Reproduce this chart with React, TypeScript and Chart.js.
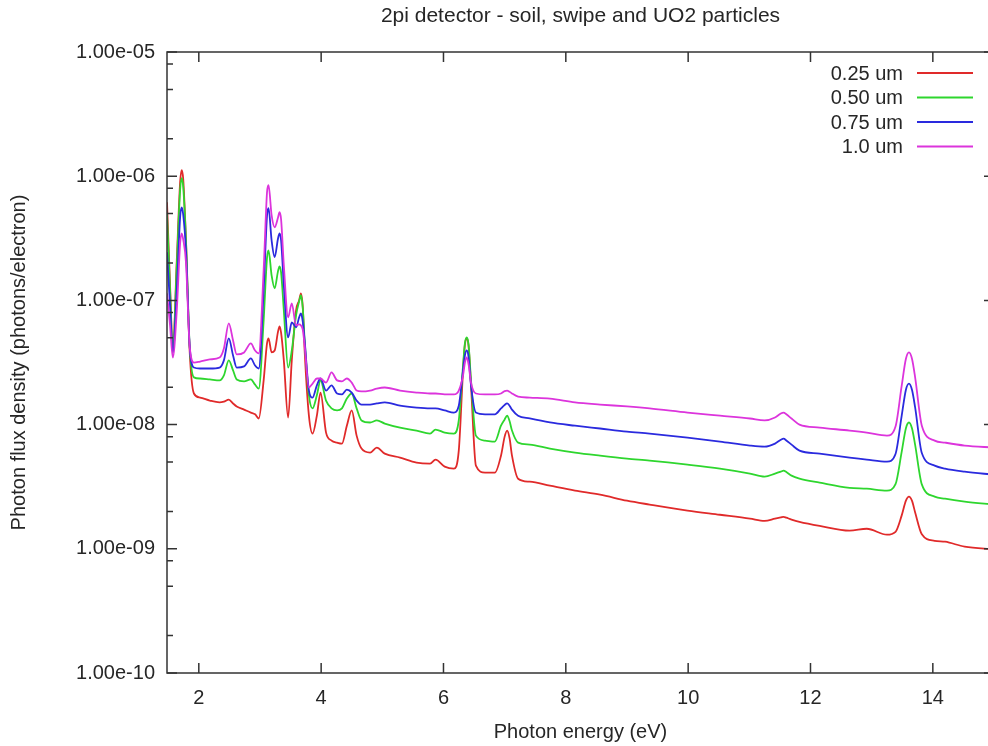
import { useEffect, useRef } from 'react';
import { Chart, registerables } from 'chart.js';

Chart.register(...registerables);

const chartTitle = '2pi detector - soil, swipe and UO2 particles';
const xTitle = 'Photon energy (eV)';
const yTitle = 'Photon flux density (photons/electron)';

const energy = [
  1.48, 1.53, 1.575, 1.64, 1.695, 1.72, 1.745, 1.79, 1.85, 1.92,
  2.02, 2.18, 2.34, 2.41, 2.49, 2.56, 2.62, 2.74, 2.85, 2.92,
  2.98, 3.06, 3.115, 3.14, 3.19, 3.24, 3.295, 3.32, 3.345, 3.39,
  3.46, 3.52, 3.59, 3.64, 3.67, 3.7, 3.73, 3.8, 3.86, 3.93,
  3.99, 4.08, 4.17, 4.26, 4.34, 4.42, 4.5, 4.58, 4.66, 4.8,
  4.91, 5.04, 5.29, 5.56, 5.78, 5.87, 6.02, 6.17, 6.25, 6.32,
  6.35, 6.38, 6.41, 6.45, 6.53, 6.68, 6.84, 6.94, 7.0, 7.04,
  7.08, 7.12, 7.22, 7.41, 7.74, 8.15, 8.56, 9.0, 9.37, 9.99,
  10.52, 11.01, 11.25, 11.42, 11.515, 11.56, 11.605, 11.69, 11.82, 12.15,
  12.64, 12.92, 13.25, 13.39, 13.49, 13.56, 13.61, 13.66, 13.71, 13.82,
  14.03, 14.2, 14.52, 15.0,
];

const um025 = [
  6.17e-7, 1.32e-7, 3.95e-8, 2.1e-7, 9.0e-7, 1.12e-6, 9.5e-7, 3.05e-7, 3.95e-8, 1.78e-8,
  1.65e-8, 1.56e-8, 1.51e-8, 1.53e-8, 1.59e-8, 1.48e-8, 1.4e-8, 1.32e-8, 1.25e-8, 1.21e-8,
  1.12e-8, 2.27e-8, 4.5e-8, 4.94e-8, 3.81e-8, 3.95e-8, 5.6e-8, 6.17e-8, 5.5e-8, 3.29e-8,
  1.14e-8, 3.29e-8, 8.31e-8, 1.0e-7, 1.14e-7, 8.8e-8, 3.95e-8, 1.18e-8, 8.46e-9, 1.18e-8,
  1.81e-8, 8.62e-9, 7.43e-9, 7.16e-9, 7.03e-9, 9.8e-9, 1.3e-8, 8.15e-9, 6.41e-9, 5.95e-9,
  6.53e-9, 5.84e-9, 5.42e-9, 4.94e-9, 4.85e-9, 5.22e-9, 4.59e-9, 4.42e-9, 6.17e-9, 2.73e-8,
  4.4e-8, 4.94e-8, 4.3e-8, 2.07e-8, 4.67e-9, 4.1e-9, 4.1e-9, 5.62e-9, 8.0e-9, 8.95e-9,
  7.8e-9, 5.62e-9, 3.67e-9, 3.47e-9, 3.22e-9, 2.94e-9, 2.73e-9, 2.44e-9, 2.27e-9, 2.03e-9,
  1.88e-9, 1.75e-9, 1.68e-9, 1.75e-9, 1.79e-9, 1.81e-9, 1.78e-9, 1.72e-9, 1.65e-9, 1.53e-9,
  1.4e-9, 1.45e-9, 1.3e-9, 1.37e-9, 1.85e-9, 2.44e-9, 2.63e-9, 2.43e-9, 1.97e-9, 1.31e-9,
  1.16e-9, 1.14e-9, 1.04e-9, 9.9e-10,
];

const um050 = [
  4.94e-7, 1.21e-7, 3.81e-8, 1.91e-7, 7.8e-7, 9.63e-7, 8.2e-7, 3.05e-7, 4.34e-8, 2.4e-8,
  2.35e-8, 2.31e-8, 2.27e-8, 2.49e-8, 3.29e-8, 2.73e-8, 2.31e-8, 2.23e-8, 2.31e-8, 2.1e-8,
  1.95e-8, 6.9e-8, 2.2e-7, 2.53e-7, 1.59e-7, 1.25e-7, 1.72e-7, 1.88e-7, 1.68e-7, 8.31e-8,
  2.88e-8, 3.95e-8, 7.57e-8, 9.8e-8, 1.1e-7, 8.6e-8, 4.76e-8, 1.72e-8, 1.35e-8, 1.72e-8,
  2.27e-8, 1.56e-8, 1.35e-8, 1.3e-8, 1.35e-8, 1.62e-8, 1.78e-8, 1.35e-8, 1.08e-8, 1.04e-8,
  1.08e-8, 1.02e-8, 9.46e-9, 8.95e-9, 8.46e-9, 9.12e-9, 8.62e-9, 8.46e-9, 1.08e-8, 2.99e-8,
  4.5e-8, 5.03e-8, 4.4e-8, 2.27e-8, 8.15e-9, 7.43e-9, 7.3e-9, 9.8e-9, 1.1e-8, 1.18e-8,
  1.07e-8, 8.95e-9, 7.16e-9, 6.9e-9, 6.41e-9, 5.95e-9, 5.62e-9, 5.32e-9, 5.13e-9, 4.76e-9,
  4.42e-9, 4.03e-9, 3.81e-9, 4.03e-9, 4.18e-9, 4.26e-9, 4.15e-9, 3.88e-9, 3.67e-9, 3.41e-9,
  3.1e-9, 3.05e-9, 2.94e-9, 3.31e-9, 6.0e-9, 9.36e-9, 1.04e-8, 9.3e-9, 6.9e-9, 3.3e-9,
  2.63e-9, 2.53e-9, 2.4e-9, 2.27e-9,
];

const um075 = [
  2.44e-7, 9.12e-8, 3.81e-8, 1.21e-7, 4.7e-7, 5.62e-7, 4.9e-7, 2.53e-7, 4.34e-8, 2.88e-8,
  2.83e-8, 2.83e-8, 2.88e-8, 3.29e-8, 4.94e-8, 3.6e-8, 2.88e-8, 2.94e-8, 3.41e-8, 2.99e-8,
  2.83e-8, 1.21e-7, 4.8e-7, 5.52e-7, 3.05e-7, 2.23e-7, 3.15e-7, 3.47e-7, 3.05e-7, 1.32e-7,
  5.03e-8, 6.65e-8, 6.06e-8, 7.3e-8, 7.85e-8, 6.7e-8, 4.76e-8, 1.88e-8, 1.65e-8, 2.07e-8,
  2.35e-8, 1.88e-8, 2.07e-8, 1.78e-8, 1.75e-8, 1.91e-8, 1.81e-8, 1.56e-8, 1.45e-8, 1.45e-8,
  1.48e-8, 1.51e-8, 1.42e-8, 1.37e-8, 1.35e-8, 1.35e-8, 1.3e-8, 1.25e-8, 1.42e-8, 2.73e-8,
  3.6e-8, 3.95e-8, 3.5e-8, 2.07e-8, 1.25e-8, 1.21e-8, 1.21e-8, 1.35e-8, 1.44e-8, 1.48e-8,
  1.42e-8, 1.32e-8, 1.18e-8, 1.12e-8, 1.04e-8, 9.8e-9, 9.3e-9, 8.79e-9, 8.46e-9, 7.85e-9,
  7.3e-9, 6.78e-9, 6.65e-9, 7.03e-9, 7.55e-9, 7.71e-9, 7.45e-9, 6.9e-9, 6.17e-9, 5.84e-9,
  5.42e-9, 5.22e-9, 5.03e-9, 5.8e-9, 1.17e-8, 1.91e-8, 2.14e-8, 1.9e-8, 1.38e-8, 5.9e-9,
  4.67e-9, 4.42e-9, 4.18e-9, 3.95e-9,
];

const um100 = [
  1.14e-7, 6.29e-8, 3.47e-8, 8.31e-8, 2.9e-7, 3.47e-7, 3.1e-7, 2.03e-7, 4.34e-8, 3.16e-8,
  3.22e-8, 3.35e-8, 3.47e-8, 4.1e-8, 6.53e-8, 4.76e-8, 3.67e-8, 3.81e-8, 4.5e-8, 3.95e-8,
  3.74e-8, 1.75e-7, 7.4e-7, 8.46e-7, 4.85e-7, 3.88e-7, 4.65e-7, 5.13e-7, 4.5e-7, 1.91e-7,
  7.3e-8, 9.46e-8, 6.29e-8, 6.4e-8, 6.29e-8, 5.8e-8, 4.34e-8, 1.99e-8, 2.14e-8, 2.35e-8,
  2.35e-8, 2.18e-8, 2.63e-8, 2.27e-8, 2.23e-8, 2.35e-8, 2.18e-8, 1.88e-8, 1.85e-8, 1.88e-8,
  1.95e-8, 1.99e-8, 1.88e-8, 1.81e-8, 1.78e-8, 1.78e-8, 1.75e-8, 1.75e-8, 1.88e-8, 2.49e-8,
  3.15e-8, 3.47e-8, 3.05e-8, 2.18e-8, 1.78e-8, 1.75e-8, 1.75e-8, 1.78e-8, 1.86e-8, 1.88e-8,
  1.84e-8, 1.78e-8, 1.68e-8, 1.65e-8, 1.62e-8, 1.51e-8, 1.45e-8, 1.4e-8, 1.35e-8, 1.25e-8,
  1.18e-8, 1.12e-8, 1.08e-8, 1.14e-8, 1.23e-8, 1.25e-8, 1.21e-8, 1.12e-8, 1.0e-8, 9.46e-9,
  8.95e-9, 8.62e-9, 8.15e-9, 9.65e-9, 2.04e-8, 3.39e-8, 3.81e-8, 3.37e-8, 2.41e-8, 9.8e-9,
  7.43e-9, 7.16e-9, 6.78e-9, 6.53e-9,
];

const seriesLabels = ['0.25 um', '0.50 um', '0.75 um', '1.0 um'];
const seriesValues = [um025, um050, um075, um100];
const seriesColors = ['#e02a2a', '#2ed62e', '#2a2ade', '#dc34dc'];

const xTicks = [2, 4, 6, 8, 10, 12, 14];
const yTicks = [1e-10, 1e-9, 1e-8, 1e-7, 1e-6, 1e-5];
const yTickLabels = ['1.00e-10', '1.00e-09', '1.00e-08', '1.00e-07', '1.00e-06', '1.00e-05'];
const yMinorMultipliers = [2, 5, 8];

const FONT_FAMILY = '"Liberation Sans", Arial, Helvetica, sans-serif';
const TEXT_COLOR = '#262626';
const AXIS_COLOR = '#333333';

const framePlugin = {
  id: 'gnuplotFrame',
  afterDatasetsDraw(chart: any) {
    const { ctx, chartArea: a, scales } = chart;
    const x = scales.x;
    const y = scales.y;
    ctx.save();
    ctx.strokeStyle = AXIS_COLOR;
    ctx.lineWidth = 1.5;
    ctx.strokeRect(a.left, a.top, a.right - a.left, a.bottom - a.top);
    ctx.beginPath();
    const major = 10;
    const minor = 6;
    for (const v of xTicks) {
      const px = x.getPixelForValue(v);
      ctx.moveTo(px, a.bottom);
      ctx.lineTo(px, a.bottom - major);
      ctx.moveTo(px, a.top);
      ctx.lineTo(px, a.top + major);
    }
    for (const v of yTicks) {
      const py = y.getPixelForValue(v);
      ctx.moveTo(a.left, py);
      ctx.lineTo(a.left + major, py);
      ctx.moveTo(a.right, py);
      ctx.lineTo(a.right - major, py);
    }
    for (let i = 0; i < yTicks.length - 1; i++) {
      for (const m of yMinorMultipliers) {
        const py = y.getPixelForValue(yTicks[i] * m);
        ctx.moveTo(a.left, py);
        ctx.lineTo(a.left + minor, py);
        ctx.moveTo(a.right, py);
        ctx.lineTo(a.right - minor, py);
      }
    }
    ctx.stroke();

    // title centred over the plot
    ctx.fillStyle = TEXT_COLOR;
    ctx.font = `21px ${FONT_FAMILY}`;
    ctx.textAlign = 'center';
    ctx.textBaseline = 'middle';
    ctx.fillText(chartTitle, (a.left + a.right) / 2, 16);

    // gnuplot-style key
    ctx.font = `20px ${FONT_FAMILY}`;
    ctx.textAlign = 'right';
    chart.data.datasets.forEach((ds: any, i: number) => {
      const ly = a.top + 21 + i * 24.5;
      ctx.fillStyle = TEXT_COLOR;
      ctx.fillText(ds.label, a.right - 91, ly + 1);
      ctx.strokeStyle = ds.borderColor;
      ctx.lineWidth = 1.8;
      ctx.beginPath();
      ctx.moveTo(a.right - 77, ly);
      ctx.lineTo(a.right - 21, ly);
      ctx.stroke();
    });
    ctx.restore();
  },
};

export default function App() {
  const canvasRef = useRef<HTMLCanvasElement | null>(null);

  useEffect(() => {
    const canvas = canvasRef.current;
    if (!canvas) return;
    const tickFont = { family: FONT_FAMILY, size: 20, weight: 'normal' as const };
    const chart = new Chart(canvas, {
      type: 'line',
      data: {
        datasets: seriesLabels.map((label, i) => ({
          label,
          data: energy.map((e, j) => ({ x: e, y: seriesValues[i][j] })),
          borderColor: seriesColors[i],
          backgroundColor: seriesColors[i],
          borderWidth: 1.8,
          pointRadius: 0,
          fill: false,
          cubicInterpolationMode: 'monotone' as const,
          order: seriesLabels.length - i,
        })),
      },
      options: {
        responsive: false,
        maintainAspectRatio: false,
        animation: false,
        devicePixelRatio: 1,
        layout: { padding: { top: 52, left: 0, right: 0, bottom: 0 } },
        plugins: {
          legend: { display: false },
          tooltip: { enabled: false },
          title: { display: false },
        },
        scales: {
          x: {
            type: 'linear',
            min: 1.48,
            max: 15,
            afterBuildTicks: (s: any) => {
              s.ticks = xTicks.map((v) => ({ value: v }));
            },
            afterFit: (s: any) => {
              s.height = 73;
            },
            grid: { display: false, drawTicks: false },
            border: { display: false },
            ticks: {
              padding: 13,
              maxRotation: 0,
              autoSkip: false,
              color: TEXT_COLOR,
              font: tickFont,
              callback: (v: any) => String(v),
            },
            title: {
              display: true,
              text: xTitle,
              color: TEXT_COLOR,
              font: tickFont,
              padding: { top: 0, bottom: 2 },
            },
          },
          y: {
            type: 'logarithmic',
            min: 1e-10,
            max: 1e-5,
            afterBuildTicks: (s: any) => {
              s.ticks = yTicks.map((v) => ({ value: v }));
            },
            afterFit: (s: any) => {
              s.width = 167;
            },
            grid: { display: false, drawTicks: false },
            border: { display: false },
            ticks: {
              padding: 12,
              autoSkip: false,
              color: TEXT_COLOR,
              font: tickFont,
              callback: (_v: any, idx: number) => yTickLabels[idx],
            },
            title: {
              display: true,
              text: yTitle,
              color: TEXT_COLOR,
              font: tickFont,
              padding: { top: 7, bottom: 0 },
            },
          },
        },
      },
      plugins: [framePlugin],
    });
    return () => chart.destroy();
  }, []);

  return (
    <div
      style={{
        position: 'fixed',
        left: 0,
        top: 0,
        width: 988,
        height: 746,
        overflow: 'hidden',
        background: '#ffffff',
      }}
    >
      <canvas
        ref={canvasRef}
        width={994}
        height={746}
        style={{ display: 'block', width: 994, height: 746 }}
      />
    </div>
  );
}
